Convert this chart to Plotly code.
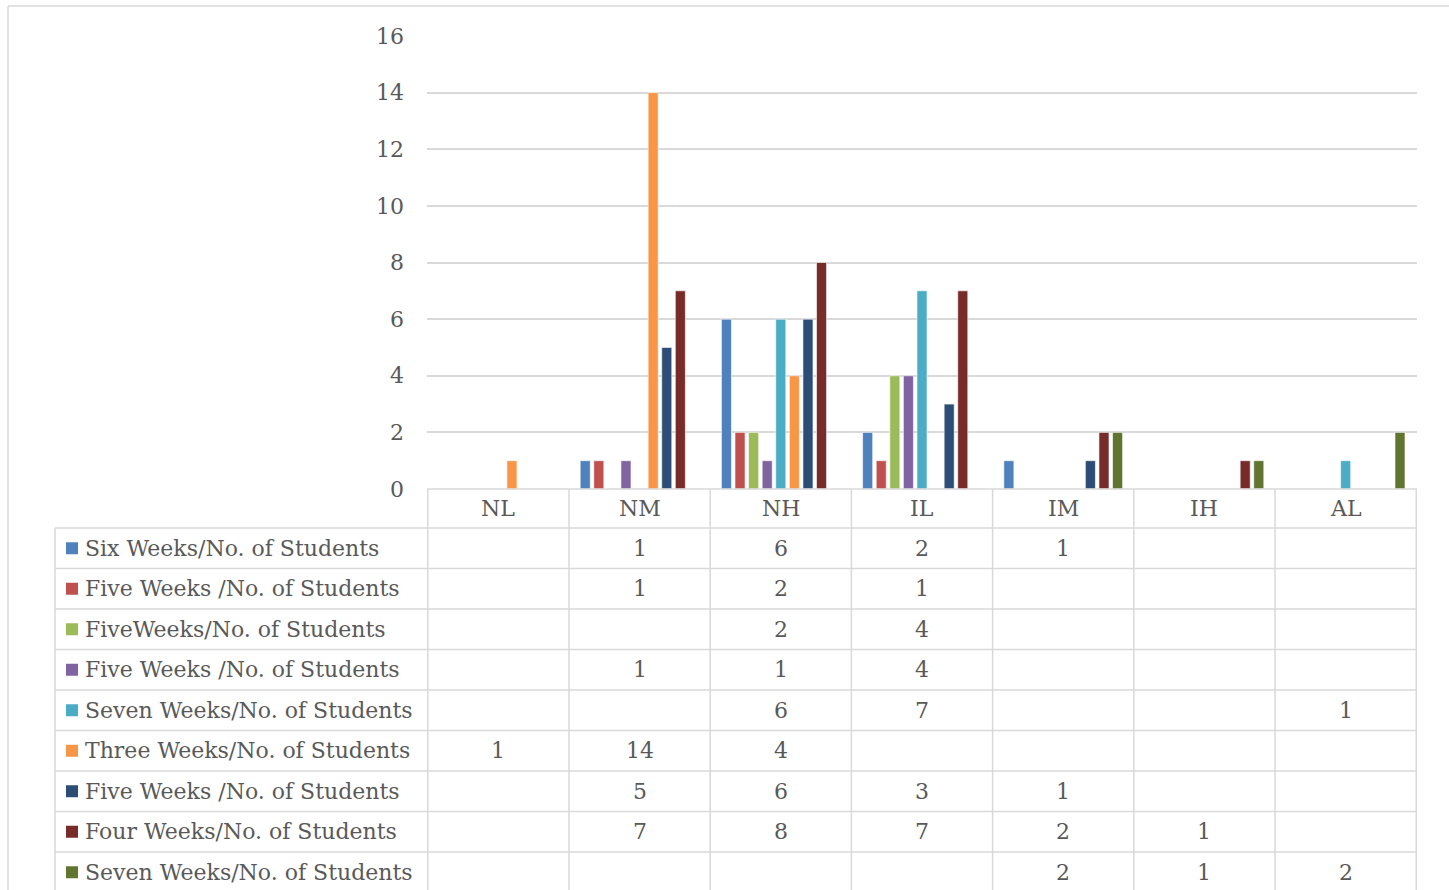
import plotly.graph_objects as go

categories = ["NL", "NM", "NH", "IL", "IM", "IH", "AL"]
series_names = [
    "Six Weeks/No. of Students",
    "Five Weeks /No. of Students",
    "FiveWeeks/No. of Students",
    "Five Weeks /No. of Students",
    "Seven Weeks/No. of Students",
    "Three Weeks/No. of Students",
    "Five Weeks /No. of Students",
    "Four Weeks/No. of Students",
    "Seven Weeks/No. of Students",
]
six_weeks = [None, 1, 6, 2, 1, None, None]
five_weeks_a = [None, 1, 2, 1, None, None, None]
five_weeks_b = [None, None, 2, 4, None, None, None]
five_weeks_c = [None, 1, 1, 4, None, None, None]
seven_weeks_a = [None, None, 6, 7, None, None, 1]
three_weeks = [1, 14, 4, None, None, None, None]
five_weeks_d = [None, 5, 6, 3, 1, None, None]
four_weeks = [None, 7, 8, 7, 2, 1, None]
seven_weeks_b = [None, None, None, None, 2, 1, 2]
y_ticks = [0, 2, 4, 6, 8, 10, 12, 14, 16]

series_values = [six_weeks, five_weeks_a, five_weeks_b, five_weeks_c, seven_weeks_a,
                 three_weeks, five_weeks_d, four_weeks, seven_weeks_b]
colors = ["#4F81BD", "#C0504D", "#9BBB59", "#8064A2", "#4BACC6",
          "#F79646", "#2C4D75", "#772C2A", "#5F7530"]

W, H = 1449, 890
def px(x):
    return min(max(x / W, 0), 1)
def py(y):
    return min(max(1 - y / H, 0), 1)

FONT = "DejaVu Serif"
TXT = "#595959"
GRID = "#D9D9D9"
FS = 22

plot_left, plot_right = 427, 1417
plot_top, plot_bottom = 36, 489
table_left = 55
row_top0 = 528
row_h = 40.5

fig = go.Figure()
for name, vals, col in zip(series_names, series_values, colors):
    fig.add_trace(go.Bar(
        x=categories, y=vals, name=name,
        marker=dict(color=col, line=dict(color="rgba(255,255,255,0.8)", width=0.75)),
        showlegend=False,
    ))

shapes = []
annotations = []

# outer chart border (top and left edges visible)
shapes.append(dict(type="line", xref="paper", yref="paper",
                   x0=px(8), x1=1, y0=py(6), y1=py(6),
                   line=dict(color=GRID, width=1.5)))
shapes.append(dict(type="line", xref="paper", yref="paper",
                   x0=px(8), x1=px(8), y0=0, y1=py(6),
                   line=dict(color=GRID, width=1.5)))

# table horizontal lines
shapes.append(dict(type="line", xref="paper", yref="paper",
                   x0=px(plot_left), x1=px(plot_right), y0=py(plot_bottom), y1=py(plot_bottom),
                   line=dict(color=GRID, width=1.5)))
for i in range(len(series_names)):
    yy = row_top0 + i * row_h
    shapes.append(dict(type="line", xref="paper", yref="paper",
                       x0=px(table_left), x1=px(plot_right), y0=py(yy), y1=py(yy),
                       line=dict(color=GRID, width=1.5)))
# left vertical line of table
shapes.append(dict(type="line", xref="paper", yref="paper",
                   x0=px(table_left), x1=px(table_left), y0=py(row_top0), y1=0,
                   line=dict(color=GRID, width=1.5)))
# category boundary vertical lines
for i in range(len(categories) + 1):
    shapes.append(dict(type="line", xref="x", yref="paper",
                       x0=i - 0.5, x1=i - 0.5, y0=py(plot_bottom), y1=0,
                       line=dict(color=GRID, width=1.5)))

# category header labels
for c in categories:
    annotations.append(dict(x=c, xref="x", y=py((plot_bottom + row_top0) / 2), yref="paper",
                            text=c, showarrow=False, xanchor="center", yanchor="middle",
                            font=dict(family=FONT, size=FS, color=TXT)))

# rows: legend key, name, values
for i, (name, vals, col) in enumerate(zip(series_names, series_values, colors)):
    yc = row_top0 + i * row_h + row_h / 2
    shapes.append(dict(type="rect", xref="paper", yref="paper",
                       x0=px(66), x1=px(78), y0=py(yc + 6), y1=py(yc - 6),
                       fillcolor=col, line=dict(width=0)))
    annotations.append(dict(x=px(83), xref="paper", y=py(yc), yref="paper",
                            text=name, showarrow=False, xanchor="left", yanchor="middle",
                            font=dict(family=FONT, size=FS, color=TXT)))
    for c, v in zip(categories, vals):
        if v is not None:
            annotations.append(dict(x=c, xref="x", y=py(yc), yref="paper",
                                    text=str(v), showarrow=False,
                                    xanchor="center", yanchor="middle",
                                    font=dict(family=FONT, size=FS, color=TXT)))

fig.update_layout(
    width=W, height=H,
    margin=dict(l=0, r=0, t=0, b=0, pad=0),
    paper_bgcolor="white", plot_bgcolor="white",
    barmode="group", bargap=0.134, bargroupgap=0.26,
    xaxis=dict(domain=[px(plot_left), px(plot_right)], showticklabels=False,
               showgrid=False, zeroline=False, showline=False, ticks="",
               automargin=False),
    yaxis=dict(domain=[py(plot_bottom), py(plot_top)], range=[0, 16],
               tickvals=y_ticks, showgrid=True, gridcolor=GRID, gridwidth=1.5,
               zeroline=False, showline=False, ticks="",
               ticklabelstandoff=22, automargin=False,
               tickfont=dict(family=FONT, size=FS, color=TXT)),
    shapes=shapes, annotations=annotations,
)

fig.write_html("out.html")
